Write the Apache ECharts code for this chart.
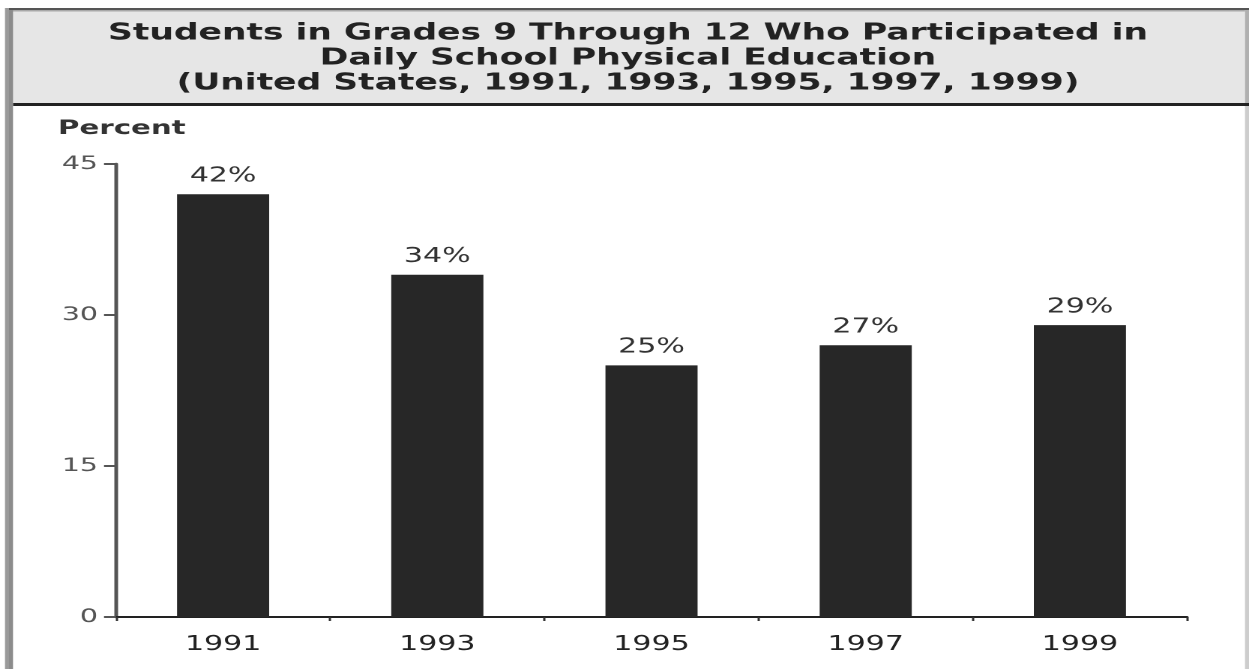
<!DOCTYPE html>
<html><head><meta charset="utf-8">
<script src="https://cdn.jsdelivr.net/npm/echarts@6/dist/echarts.min.js"></script>
<style>
html,body{margin:0;padding:0;background:#fff;overflow:hidden;width:1249px;height:669px}
#wrap{position:absolute;left:0;top:0;width:833px;height:669px;transform-origin:0 0;transform:scaleX(1.4994)}
#chart{width:833px;height:669px}
</style></head><body>
<div id="wrap"><div id="chart"></div></div>
<script>
const titleLines = [
  'Students in Grades 9 Through 12 Who Participated in',
  'Daily School Physical Education',
  '(United States, 1991, 1993, 1995, 1997, 1999)'
];
const categories = ['1991', '1993', '1995', '1997', '1999'];
const values = [42, 34, 25, 27, 29];
const yTickValues = [0, 15, 30, 45];
const yAxisName = 'Percent';

const S = 1249 / 833;           // horizontal stretch of the page
const X = r => r / S;           // real px -> css px
const FONT = "'DejaVu Sans', sans-serif";

const chart = echarts.init(document.getElementById('chart'), null, {devicePixelRatio: 2});
chart.setOption({
  animation: false,
  backgroundColor: '#ffffff',
  grid: {left: X(116), right: 833 - X(1187), top: 164, bottom: 52, containLabel: false},
  xAxis: {
    type: 'category',
    data: categories,
    axisLine: {show: true, lineStyle: {color: '#222', width: 2}},
    axisTick: {show: true, length: 4, lineStyle: {color: '#333', width: 1.5}},
    axisLabel: {fontSize: 20, color: '#222', fontFamily: FONT, margin: 18}
  },
  yAxis: {
    type: 'value',
    min: yTickValues[0],
    max: yTickValues[yTickValues.length - 1],
    interval: yTickValues[1] - yTickValues[0],
    axisLine: {show: true, lineStyle: {color: '#555', width: 2.5}},
    axisTick: {show: true, length: 8, lineStyle: {color: '#555', width: 2}},
    splitLine: {show: false},
    axisLabel: {fontSize: 19, color: '#555', fontFamily: FONT, margin: 12}
  },
  series: [{
    type: 'bar',
    data: values,
    barWidth: '43%',
    itemStyle: {color: '#272727'},
    label: {show: true, position: 'top', distance: 8, formatter: '{c}%',
            fontSize: 20, color: '#333', fontFamily: FONT}
  }],
  graphic: [
    {type: 'rect', shape: {x: X(9), y: 10, width: X(1236), height: 93}, style: {fill: '#e6e6e6'}, silent: true},
    {type: 'rect', shape: {x: X(9), y: 8, width: X(1240), height: 2}, style: {fill: '#555'}, silent: true},
    {type: 'rect', shape: {x: X(9), y: 10, width: X(1236), height: 1.5}, style: {fill: '#a8a8a8'}, silent: true},
    {type: 'rect', shape: {x: X(13), y: 103, width: X(1236), height: 3}, style: {fill: '#222'}, silent: true},
    {type: 'rect', shape: {x: X(5), y: 8, width: X(4), height: 661}, style: {fill: '#9a9a9a'}, silent: true},
    {type: 'rect', shape: {x: X(9), y: 10, width: X(4), height: 659}, style: {fill: '#8c8c8c'}, silent: true},
    {type: 'rect', shape: {x: X(1245), y: 10, width: X(4), height: 93}, style: {fill: '#b0b0b0'}, silent: true},
    {type: 'rect', shape: {x: X(1245), y: 106, width: X(4), height: 563}, style: {fill: '#cdcdcd'}, silent: true},
    {type: 'text', x: X(628), y: 21, silent: true,
     style: {text: titleLines.join('\n'), textAlign: 'center', textVerticalAlign: 'top',
             font: "bold 23px 'DejaVu Sans', sans-serif", lineHeight: 25, fill: '#222'}},
    {type: 'text', x: X(58), y: 119, silent: true,
     style: {text: yAxisName, textAlign: 'left', textVerticalAlign: 'top',
             font: "bold 19.5px 'DejaVu Sans', sans-serif", fill: '#333'}}
  ]
});
</script>
</body></html>
